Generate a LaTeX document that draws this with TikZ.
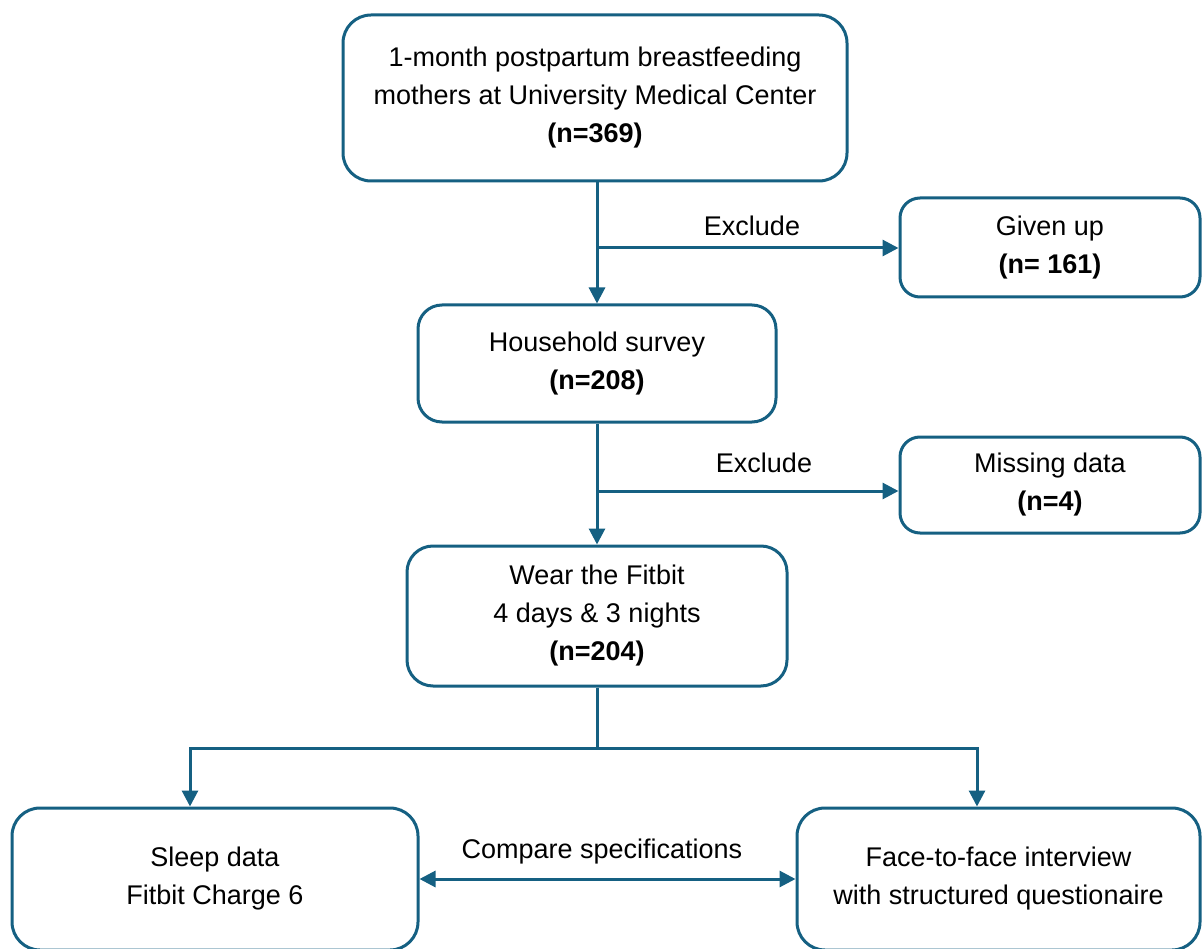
\documentclass[tikz,border=0pt]{standalone}
\usepackage{fontspec}
\setmainfont{Liberation Sans}
\usetikzlibrary{arrows.meta}
\definecolor{flowblue}{RGB}{21,96,130}
\begin{document}
\begin{tikzpicture}[x=1pt,y=-1pt,
  box/.style={draw=flowblue,line width=3pt,rounded corners=28pt,fill=white,align=center,
    inner sep=0pt,font=\fontsize{27}{38}\selectfont},
  arr/.style={draw=flowblue,line width=3pt,-{Triangle[length=16pt,width=16pt]}},
  dbl/.style={draw=flowblue,line width=3pt,{Triangle[length=16pt,width=16pt]}-{Triangle[length=16pt,width=16pt]}},
  ln/.style={draw=flowblue,line width=3pt},
  lbl/.style={font=\fontsize{27}{38}\selectfont,inner sep=0pt}]
\useasboundingbox (0,0) rectangle (1202,949);
\node[box,minimum width=504pt,minimum height=166pt] (b1) at (595,98)
  {1-month postpartum breastfeeding\\mothers at University Medical Center\\\textbf{(n=369)}};
\node[box,minimum width=358pt,minimum height=117pt,rounded corners=24pt] (b2) at (597,363.5)
  {Household survey\\\textbf{(n=208)}};
\node[box,minimum width=380pt,minimum height=140pt,rounded corners=26pt] (b3) at (597,616)
  {Wear the Fitbit\\4 days \& 3 nights\\\textbf{(n=204)}};
\node[box,minimum width=300pt,minimum height=99pt,rounded corners=20pt] (g) at (1050,247.5)
  {Given up\\\textbf{(n= 161)}};
\node[box,minimum width=300pt,minimum height=96pt,rounded corners=20pt] (m) at (1050,485)
  {Missing data\\\textbf{(n=4)}};
\node[box,minimum width=406pt,minimum height=142pt] (b4) at (215,879)
  {Sleep data\\Fitbit Charge 6};
\node[box,minimum width=403pt,minimum height=142pt] (b5) at (998.5,879)
  {Face-to-face interview\\with structured questionaire};
% connectors
\draw[arr] (b1.south -| b2.north) -- (b2.north);
\coordinate (e1) at (597,248);
\draw[arr] (e1) -- (e1 -| g.west);
\node[lbl] (x1) at (752,226) {Exclude};
\draw[arr] (b2.south) -- (b2.south |- b3.north);
\coordinate (e2) at (597,491);
\draw[arr] (e2) -- (e2 -| m.west);
\node[lbl] (x2) at (764,463) {Exclude};
\coordinate (s) at (597,748);
\coordinate (L) at (190,748);
\coordinate (R) at (977,748);
\draw[ln] (b3.south) -- (s);
\draw[arr] (s) -- (L) -- (L |- b4.north);
\draw[arr] (s) -- (R) -- (R |- b5.north);
\draw[dbl] (b4.east) -- (b5.west);
\node[lbl] (cs) at (602,852) {Compare specifications};
\end{tikzpicture}
\end{document}
